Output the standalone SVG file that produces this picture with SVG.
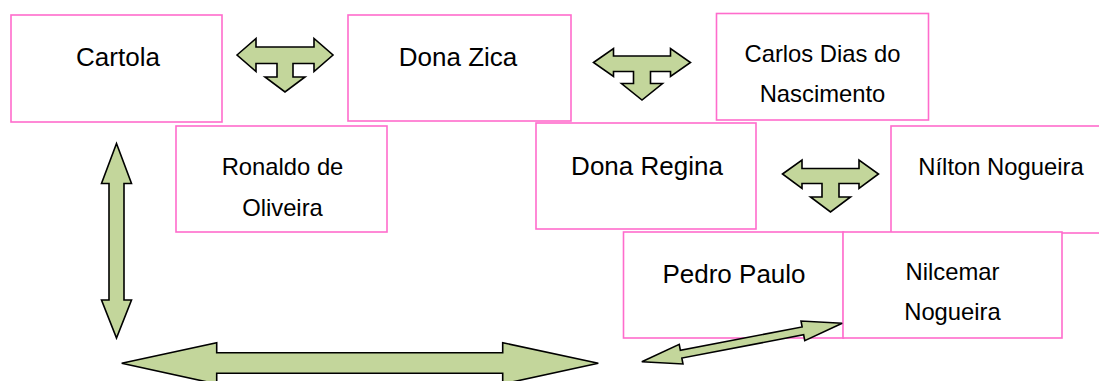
<svg xmlns="http://www.w3.org/2000/svg" width="1099" height="381" viewBox="0 0 1099 381">
<style>
.box{fill:#ffffff;stroke:#ff6ccc;stroke-width:1.6}
.big{font-family:"Liberation Sans",Arial,sans-serif;font-size:26px;fill:#000;text-anchor:middle}
.sm{font-family:"Liberation Sans",Arial,sans-serif;font-size:23.8px;fill:#000;text-anchor:middle}
.arr{fill:#c3d69b;stroke:#000;stroke-width:1.6;stroke-linejoin:miter}
</style>
<rect width="1099" height="381" fill="#ffffff"/>
<g id="cartola"><rect class="box" x="11" y="15" width="211" height="107"/><text class="big" x="118" y="65.5">Cartola</text></g>
<g id="dona-zica"><rect class="box" x="348" y="15" width="223" height="106"/><text class="big" x="458" y="66">Dona Zica</text></g>
<g id="carlos-dias"><rect class="box" x="716.5" y="13.5" width="212" height="106.5"/><text class="sm" x="822.5" y="61.5">Carlos Dias do</text><text class="sm" x="822.5" y="101.5">Nascimento</text></g>
<g id="ronaldo"><rect class="box" x="176" y="126" width="211" height="106"/><text class="sm" x="282.5" y="175">Ronaldo de</text><text class="sm" x="282.5" y="215.5">Oliveira</text></g>
<g id="dona-regina"><rect class="box" x="536" y="123" width="220" height="106"/><text class="big" x="647" y="175">Dona Regina</text></g>
<g id="nilton"><rect class="box" x="891" y="126" width="220" height="107"/><text class="sm" x="1001" y="175">Nílton Nogueira</text></g>
<g id="pedro-paulo"><rect class="box" x="623.5" y="232" width="220" height="106"/><text class="big" x="734" y="283">Pedro Paulo</text></g>
<g id="nilcemar"><rect class="box" x="843" y="232" width="219" height="106"/><text class="sm" x="952.5" y="279.5">Nilcemar</text><text class="sm" x="952.5" y="319.5">Nogueira</text></g>
<g id="connectors">
<polygon class="arr" points="237,55 256,38.5 256,47 314,47 314,38.5 333,55 314,71.5 314,63.5 293,63.5 293,77 305,77 285,92 265,77 277,77 277,63.5 256,63.5 256,71.5"/>
<polygon class="arr" points="593.5,62.5 613.5,48.5 613.5,56 670.5,56 670.5,48.5 690.5,62.5 670.5,76.5 670.5,71.5 650.5,71.5 650.5,83.5 662.5,83.5 642,100 621.5,83.5 633.5,83.5 633.5,71.5 613.5,71.5 613.5,76.5"/>
<polygon class="arr" points="782.5,174 802,160 802,168.5 859,168.5 859,160 878.5,174 859,188.5 859,183.5 839,183.5 839,197 850.5,197 830.5,212 810.5,197 822,197 822,183.5 802,183.5 802,188.5"/>
<polygon class="arr" points="116.5,143.5 131.5,183.5 124,183.5 124,300 131.5,300 116.5,338 101.5,300 109,300 109,183.5 101.5,183.5"/>
<polygon class="arr" points="121.7,363.3 216.7,342.7 216.7,352.7 502.7,352.7 502.7,342.7 598.3,363.3 502.7,384 502.7,373.3 216.7,373.3 216.7,384"/>
<polygon class="arr" transform="translate(742,342.5) rotate(-10.84)" points="-102,0 -62,-10 -62,-4 62,-4 62,-10 102,0 62,10 62,4 -62,4 -62,10"/>
</g>
</svg>
